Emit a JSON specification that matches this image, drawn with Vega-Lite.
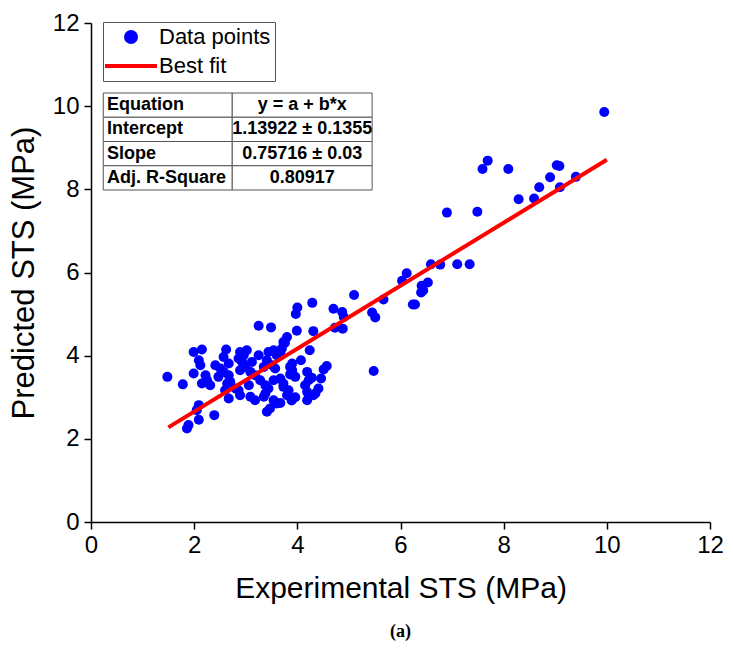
{
  "$schema": "https://vega.github.io/schema/vega-lite/v6.json",
  "width": 619,
  "height": 499,
  "autosize": "none",
  "padding": {"left": 91, "top": 23, "right": 23, "bottom": 132},
  "background": "white",
  "config": {
    "view": {"stroke": null},
    "font": "Liberation Sans",
    "axis": {
      "grid": false,
      "domainColor": "black",
      "domainWidth": 1.5,
      "tickColor": "black",
      "tickWidth": 1.5,
      "tickSize": 7,
      "labelFont": "Liberation Sans",
      "labelFontSize": 24,
      "labelColor": "black",
      "labelFlush": false,
      "labelOverlap": false,
      "titleFont": "Liberation Sans",
      "titleFontWeight": "normal",
      "titleColor": "black"
    },
    "legend": {
      "orient": "none",
      "legendX": 12,
      "legendY": -1,
      "padding": 4,
      "strokeColor": "#555555",
      "fillColor": "white",
      "labelFont": "Liberation Sans",
      "labelFontSize": 22,
      "labelColor": "black",
      "symbolSize": 100,
      "symbolStrokeWidth": 4,
      "symbolOffset": 13,
      "labelOffset": 17,
      "rowPadding": 5
    }
  },
  "title": {"text": "(a)", "orient": "bottom", "font": "Liberation Serif", "fontSize": 18, "fontWeight": "bold", "color": "black", "offset": 20, "anchor": "middle"},
  "datasets": {
    "points": [
      {"Experimental": 9.95, "Predicted": 9.86},
      {"Experimental": 7.69, "Predicted": 8.69},
      {"Experimental": 7.59, "Predicted": 8.49},
      {"Experimental": 8.09, "Predicted": 8.49},
      {"Experimental": 9.03, "Predicted": 8.58},
      {"Experimental": 9.08, "Predicted": 8.56},
      {"Experimental": 8.9, "Predicted": 8.29},
      {"Experimental": 8.69, "Predicted": 8.05},
      {"Experimental": 9.09, "Predicted": 8.05},
      {"Experimental": 9.4, "Predicted": 8.3},
      {"Experimental": 8.29, "Predicted": 7.76},
      {"Experimental": 8.59, "Predicted": 7.78},
      {"Experimental": 6.9, "Predicted": 7.44},
      {"Experimental": 7.49, "Predicted": 7.46},
      {"Experimental": 6.59, "Predicted": 6.2},
      {"Experimental": 6.77, "Predicted": 6.19},
      {"Experimental": 7.1, "Predicted": 6.2},
      {"Experimental": 7.34, "Predicted": 6.2},
      {"Experimental": 6.12, "Predicted": 5.98},
      {"Experimental": 6.03, "Predicted": 5.8},
      {"Experimental": 6.53, "Predicted": 5.76},
      {"Experimental": 6.41, "Predicted": 5.68},
      {"Experimental": 6.4, "Predicted": 5.52},
      {"Experimental": 6.44, "Predicted": 5.57},
      {"Experimental": 6.24, "Predicted": 5.23},
      {"Experimental": 6.28, "Predicted": 5.23},
      {"Experimental": 5.1, "Predicted": 5.46},
      {"Experimental": 5.67, "Predicted": 5.35},
      {"Experimental": 4.0, "Predicted": 5.16},
      {"Experimental": 3.97, "Predicted": 5.0},
      {"Experimental": 4.29, "Predicted": 5.27},
      {"Experimental": 4.7, "Predicted": 5.13},
      {"Experimental": 4.87, "Predicted": 5.05},
      {"Experimental": 4.9, "Predicted": 4.93},
      {"Experimental": 5.45, "Predicted": 5.04},
      {"Experimental": 5.51, "Predicted": 4.92},
      {"Experimental": 4.73, "Predicted": 4.67},
      {"Experimental": 4.88, "Predicted": 4.65},
      {"Experimental": 4.31, "Predicted": 4.59},
      {"Experimental": 3.99, "Predicted": 4.6},
      {"Experimental": 3.8, "Predicted": 4.45},
      {"Experimental": 3.73, "Predicted": 4.33},
      {"Experimental": 4.24, "Predicted": 4.13},
      {"Experimental": 4.07, "Predicted": 3.89},
      {"Experimental": 4.57, "Predicted": 3.75},
      {"Experimental": 4.51, "Predicted": 3.67},
      {"Experimental": 5.48, "Predicted": 3.63},
      {"Experimental": 3.9, "Predicted": 3.65},
      {"Experimental": 3.86, "Predicted": 3.55},
      {"Experimental": 3.96, "Predicted": 3.49},
      {"Experimental": 4.19, "Predicted": 3.61},
      {"Experimental": 4.22, "Predicted": 3.41},
      {"Experimental": 4.28, "Predicted": 3.47},
      {"Experimental": 4.46, "Predicted": 3.45},
      {"Experimental": 3.73, "Predicted": 3.25},
      {"Experimental": 3.83, "Predicted": 3.17},
      {"Experimental": 3.8, "Predicted": 3.05},
      {"Experimental": 4.15, "Predicted": 3.29},
      {"Experimental": 4.19, "Predicted": 3.13},
      {"Experimental": 4.41, "Predicted": 3.21},
      {"Experimental": 4.35, "Predicted": 3.09},
      {"Experimental": 4.31, "Predicted": 3.05},
      {"Experimental": 4.19, "Predicted": 2.93},
      {"Experimental": 3.67, "Predicted": 2.86},
      {"Experimental": 3.25, "Predicted": 4.72},
      {"Experimental": 3.49, "Predicted": 4.68},
      {"Experimental": 3.76, "Predicted": 4.31},
      {"Experimental": 1.99, "Predicted": 4.09},
      {"Experimental": 2.15, "Predicted": 4.15},
      {"Experimental": 2.09, "Predicted": 3.89},
      {"Experimental": 2.12, "Predicted": 3.77},
      {"Experimental": 1.48, "Predicted": 3.49},
      {"Experimental": 1.78, "Predicted": 3.31},
      {"Experimental": 1.99, "Predicted": 3.57},
      {"Experimental": 2.22, "Predicted": 3.53},
      {"Experimental": 2.25, "Predicted": 3.41},
      {"Experimental": 2.15, "Predicted": 3.33},
      {"Experimental": 2.31, "Predicted": 3.29},
      {"Experimental": 2.41, "Predicted": 3.77},
      {"Experimental": 2.51, "Predicted": 3.69},
      {"Experimental": 2.57, "Predicted": 3.61},
      {"Experimental": 2.62, "Predicted": 4.15},
      {"Experimental": 2.57, "Predicted": 3.97},
      {"Experimental": 2.89, "Predicted": 4.09},
      {"Experimental": 2.96, "Predicted": 4.01},
      {"Experimental": 3.02, "Predicted": 4.13},
      {"Experimental": 2.86, "Predicted": 3.93},
      {"Experimental": 2.93, "Predicted": 3.85},
      {"Experimental": 3.25, "Predicted": 4.01},
      {"Experimental": 2.99, "Predicted": 3.73},
      {"Experimental": 3.09, "Predicted": 3.61},
      {"Experimental": 3.18, "Predicted": 3.53},
      {"Experimental": 2.89, "Predicted": 3.65},
      {"Experimental": 2.67, "Predicted": 3.53},
      {"Experimental": 2.47, "Predicted": 3.49},
      {"Experimental": 2.64, "Predicted": 3.33},
      {"Experimental": 2.7, "Predicted": 3.37},
      {"Experimental": 2.6, "Predicted": 3.17},
      {"Experimental": 2.67, "Predicted": 2.97},
      {"Experimental": 2.86, "Predicted": 3.17},
      {"Experimental": 2.89, "Predicted": 3.05},
      {"Experimental": 3.09, "Predicted": 3.01},
      {"Experimental": 3.18, "Predicted": 2.93},
      {"Experimental": 3.44, "Predicted": 4.09},
      {"Experimental": 3.54, "Predicted": 4.13},
      {"Experimental": 3.6, "Predicted": 4.01},
      {"Experimental": 3.67, "Predicted": 4.05},
      {"Experimental": 3.41, "Predicted": 3.89},
      {"Experimental": 3.51, "Predicted": 3.77},
      {"Experimental": 3.57, "Predicted": 3.69},
      {"Experimental": 3.35, "Predicted": 3.73},
      {"Experimental": 3.28, "Predicted": 3.41},
      {"Experimental": 3.38, "Predicted": 3.29},
      {"Experimental": 3.44, "Predicted": 3.21},
      {"Experimental": 3.54, "Predicted": 3.41},
      {"Experimental": 3.67, "Predicted": 3.45},
      {"Experimental": 3.73, "Predicted": 3.33},
      {"Experimental": 3.38, "Predicted": 3.09},
      {"Experimental": 3.35, "Predicted": 3.01},
      {"Experimental": 3.54, "Predicted": 2.93},
      {"Experimental": 3.6, "Predicted": 2.85},
      {"Experimental": 3.41, "Predicted": 2.65},
      {"Experimental": 3.47, "Predicted": 2.73},
      {"Experimental": 2.09, "Predicted": 2.81},
      {"Experimental": 2.05, "Predicted": 2.69},
      {"Experimental": 2.09, "Predicted": 2.46},
      {"Experimental": 2.39, "Predicted": 2.57},
      {"Experimental": 1.89, "Predicted": 2.33},
      {"Experimental": 1.86, "Predicted": 2.25},
      {"Experimental": 3.9, "Predicted": 3.81},
      {"Experimental": 3.86, "Predicted": 3.73},
      {"Experimental": 2.67, "Predicted": 3.81},
      {"Experimental": 3.7, "Predicted": 4.17},
      {"Experimental": 3.96, "Predicted": 3.0},
      {"Experimental": 3.89, "Predicted": 2.92},
      {"Experimental": 3.12, "Predicted": 3.85},
      {"Experimental": 3.06, "Predicted": 3.29},
      {"Experimental": 2.8, "Predicted": 3.21}
    ],
    "fit": [
      {"Experimental": 1.5, "Predicted": 2.275},
      {"Experimental": 10.0, "Predicted": 8.711}
    ],
    "stats": [
      {"label": "Equation", "value": "y = a + b*x"},
      {"label": "Intercept", "value": "1.13922 ± 0.1355"},
      {"label": "Slope", "value": "0.75716 ± 0.03"},
      {"label": "Adj. R-Square", "value": "0.80917"}
    ]
  },
  "layer": [
    {
      "layer": [
        {
          "data": {"name": "points"},
          "mark": {"type": "point", "filled": true, "size": 100, "opacity": 1, "strokeWidth": 0},
          "encoding": {
            "x": {"field": "Experimental", "type": "quantitative", "scale": {"domain": [0, 12], "nice": false, "zero": false},
              "axis": {"title": "Experimental STS (MPa)", "values": [0, 2, 4, 6, 8, 10, 12], "format": "d", "labelPadding": 4, "titlePadding": 16, "titleFontSize": 30}},
            "y": {"field": "Predicted", "type": "quantitative", "scale": {"domain": [0, 12], "nice": false, "zero": false},
              "axis": {"title": "Predicted STS (MPa)", "values": [0, 2, 4, 6, 8, 10, 12], "format": "d", "labelPadding": 5, "titlePadding": 12, "titleFontSize": 31}},
            "color": {"datum": "Data points", "type": "nominal",
              "scale": {"domain": ["Data points", "Best fit"], "range": ["#0000ff", "#ff0000"]},
              "legend": {
                "title": null,
                "encode": {
                  "symbols": {
                    "update": {
                      "shape": {"signal": "datum.value === 'Best fit' ? 'M-5.2,0H5.2' : 'circle'"},
                      "fill": {"signal": "datum.value === 'Best fit' ? 'transparent' : '#0000ff'"},
                      "stroke": {"signal": "datum.value === 'Best fit' ? '#ff0000' : 'transparent'"},
                      "strokeWidth": {"value": 4},
                      "opacity": {"value": 1}
                    }
                  }
                }
              }
            }
          }
        },
        {
          "data": {"name": "fit"},
          "mark": {"type": "line", "strokeWidth": 4},
          "encoding": {
            "x": {"field": "Experimental", "type": "quantitative"},
            "y": {"field": "Predicted", "type": "quantitative"},
            "color": {"datum": "Best fit", "type": "nominal",
              "legend": {
                "title": null,
                "encode": {
                  "symbols": {
                    "update": {
                      "shape": {"signal": "datum.value === 'Best fit' ? 'M-5.2,0H5.2' : 'circle'"},
                      "fill": {"signal": "datum.value === 'Best fit' ? 'transparent' : '#0000ff'"},
                      "stroke": {"signal": "datum.value === 'Best fit' ? '#ff0000' : 'transparent'"},
                      "strokeWidth": {"value": 4},
                      "opacity": {"value": 1}
                    }
                  }
                }
              }
            }
          }
        }
      ]
    },
    {
      "data": {"name": "stats"},
      "encoding": {
        "y": {"field": "label", "type": "nominal", "axis": null,
          "scale": {"domain": ["Equation", "Intercept", "Slope", "Adj. R-Square"], "paddingInner": 0, "paddingOuter": 0, "range": [70, 167]}}
      },
      "layer": [
        {
          "mark": {"type": "rect", "fill": "white", "stroke": "#555555", "strokeWidth": 1},
          "encoding": {
            "x": {"datum": 0.238, "type": "quantitative"},
            "x2": {"datum": 2.738}
          }
        },
        {
          "mark": {"type": "rect", "fill": "white", "stroke": "#555555", "strokeWidth": 1},
          "encoding": {
            "x": {"datum": 2.738, "type": "quantitative"},
            "x2": {"datum": 5.45}
          }
        },
        {
          "mark": {"type": "text", "align": "left", "baseline": "middle", "font": "Liberation Sans", "fontWeight": "bold", "fontSize": 18, "color": "black"},
          "encoding": {
            "x": {"datum": 0.31, "type": "quantitative"},
            "text": {"field": "label"}
          }
        },
        {
          "mark": {"type": "text", "align": "center", "baseline": "middle", "font": "Liberation Sans", "fontWeight": "bold", "fontSize": 18, "color": "black"},
          "encoding": {
            "x": {"datum": 4.095, "type": "quantitative"},
            "text": {"field": "value"}
          }
        }
      ]
    }
  ],
  "resolve": {"scale": {"y": "independent"}, "axis": {"y": "independent"}}
}
